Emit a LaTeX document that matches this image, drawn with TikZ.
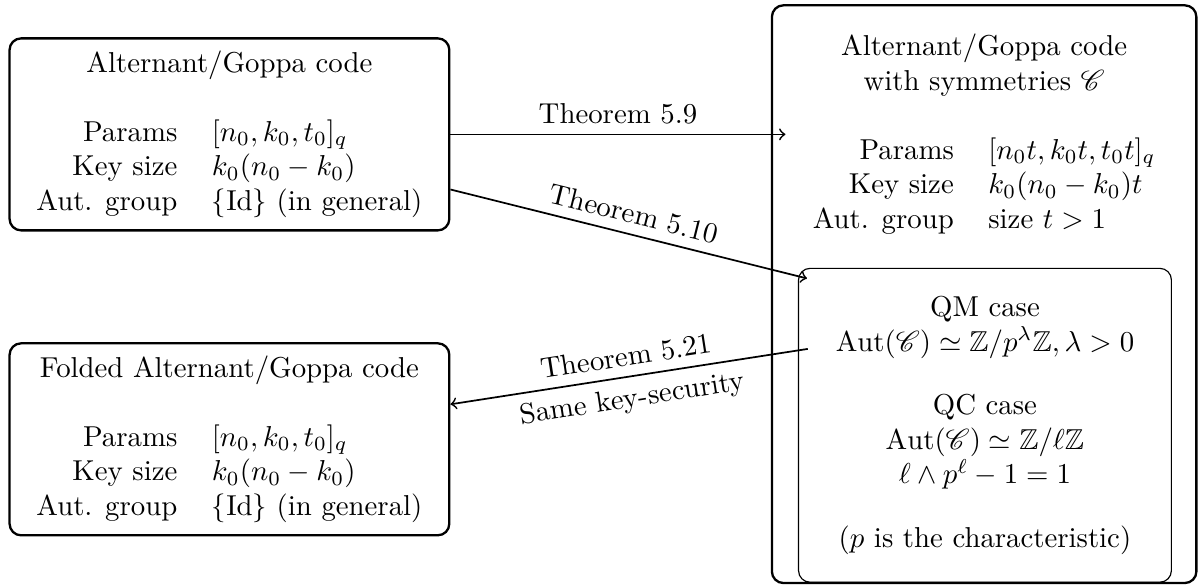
\documentclass[tikz,border=0pt]{standalone}
\usepackage{amsmath}
\usepackage{amssymb}
\usepackage{mathrsfs}
\usetikzlibrary{positioning}

\tikzset{
    codebox/.style={draw, thick, rounded corners},
    casebox/.style={draw, rounded corners, align=center, minimum width=4.55cm, minimum height=3.83cm},
    thm/.style={->, semithick}
}

\begin{document}
\begin{tikzpicture}
        \useasboundingbox (0,0) rectangle (14.62,-7.14);
        \node[codebox] (plain) at (2.8,-1.64) {\begin{tabular}{rl}
            \multicolumn{2}{c}{Alternant/Goppa code}\\
            \\
            Params & $[n_0,k_0,t_0]_q$\\
            Key size & $k_0(n_0-k_0)$\\
            Aut. group & $\{\mathrm{Id}\}$ (in general)
        \end{tabular}};
        \node[codebox, below=1.35cm of plain] (folded) {\begin{tabular}{rl}
            \multicolumn{2}{c}{Folded Alternant/Goppa code}\\
            \\
            Params & $[n_0,k_0,t_0]_q$\\
            Key size & $k_0(n_0-k_0)$\\
            Aut. group & $\{\mathrm{Id}\}$ (in general)
        \end{tabular}};
        
        \node[codebox, minimum width=5.18cm, minimum height=7.05cm] (symbox) at (12.01,-3.59) {};
        \node[anchor=north] (symtab) at (12.01,-0.26) {\begin{tabular}{rl}
            \multicolumn{2}{c}{Alternant/Goppa code}\\
            \multicolumn{2}{c}{with symmetries $\mathscr{C}$}\\
            \\
            Params & $[n_0t,k_0t,t_0t]_q$\\
            Key size & $k_0(n_0-k_0)t$\\
            Aut. group & size $t>1$
        \end{tabular}};
        \node[casebox] (cases) at (12.02,-5.19) {QM case\\
            $\mathrm{Aut}(\mathscr{C})\simeq\mathbb{Z}/p^\lambda\mathbb{Z},\lambda>0$\\[1em]
            QC case\\
            $\mathrm{Aut}(\mathscr{C})\simeq\mathbb{Z}/\ell\mathbb{Z}$\\
            $\ell\wedge p^\ell-1=1$\\[1em]
            ($p$ is the characteristic)};
        
        \draw[thm] (plain.east) -- (plain.east -| symtab.west) node[midway, above] {Theorem 5.9};
        \draw[thm] (plain.-14) -- ([shift={(0.11,-0.13)}]cases.north west) node[midway, above, sloped] {Theorem 5.10};
        \draw[thm] ([shift={(0.12,-0.99)}]cases.north west) -- (folded.9) node[midway, above, sloped] {Theorem 5.21} node[midway, below, sloped] {Same key-security};
    \end{tikzpicture}
\end{document}
